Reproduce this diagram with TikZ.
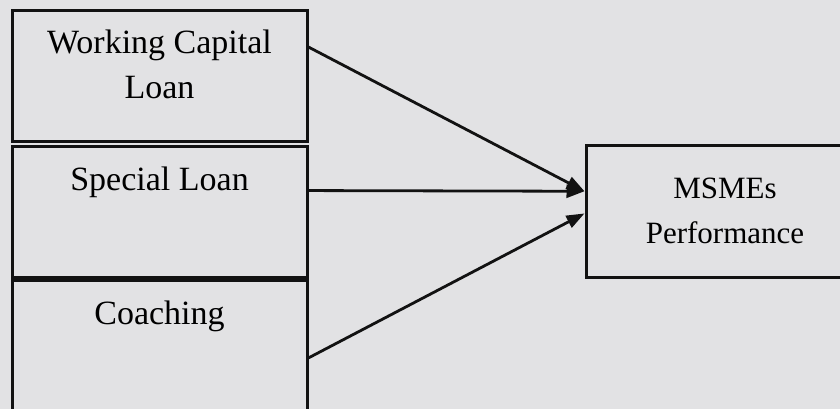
\documentclass[tikz,border=0pt]{standalone}
\usepackage{fontspec}
\setmainfont{Liberation Serif}
\usetikzlibrary{arrows.meta}
\definecolor{paper}{RGB}{226,226,228}
\definecolor{ink}{RGB}{18,18,18}

\begin{document}
\begin{tikzpicture}[x=1pt, y=-1pt, >={Triangle[length=18pt,width=13pt]},
  box/.style={draw=ink, line width=3pt, minimum width=295pt, inner sep=0pt},
  lbl/.style={font=\fontsize{34}{45}\selectfont, align=center, anchor=north, inner sep=0pt},
  link/.style={->, draw=ink, line width=2.8pt}]
  % paper and frame
  \fill[paper] (0,0) rectangle (840,409);
  \useasboundingbox (0,0) rectangle (840,409);
  \clip (0,0) rectangle (840,409);
  % left boxes
  \node[box, minimum height=130pt] (wcl) at (159.5,76) {};
  \node[box, minimum height=131pt] (spl) at (159.5,211.5) {};
  \node[box, minimum height=135pt] (coa) at (159.5,347.5) {};
  \node[lbl] (wcl-t) at ([yshift=-20pt]wcl.north) {Working Capital\\Loan};
  \node[lbl] (spl-t) at ([yshift=-22pt]spl.north) {Special Loan};
  \node[lbl] (coa-t) at ([yshift=-22pt]coa.north) {Coaching};
  % outcome box
  \node[box, minimum width=278pt, minimum height=132pt, align=center,
        font=\fontsize{31}{45}\selectfont] (perf) at (725,211) {MSMEs\\Performance};
  % arrows
  \draw[link] (wcl.11) -- (perf.172);
  \draw[link] (spl.8) -- (perf.172);
  \draw[link] (coa.-4) -- (perf.181);
\end{tikzpicture}
\end{document}
